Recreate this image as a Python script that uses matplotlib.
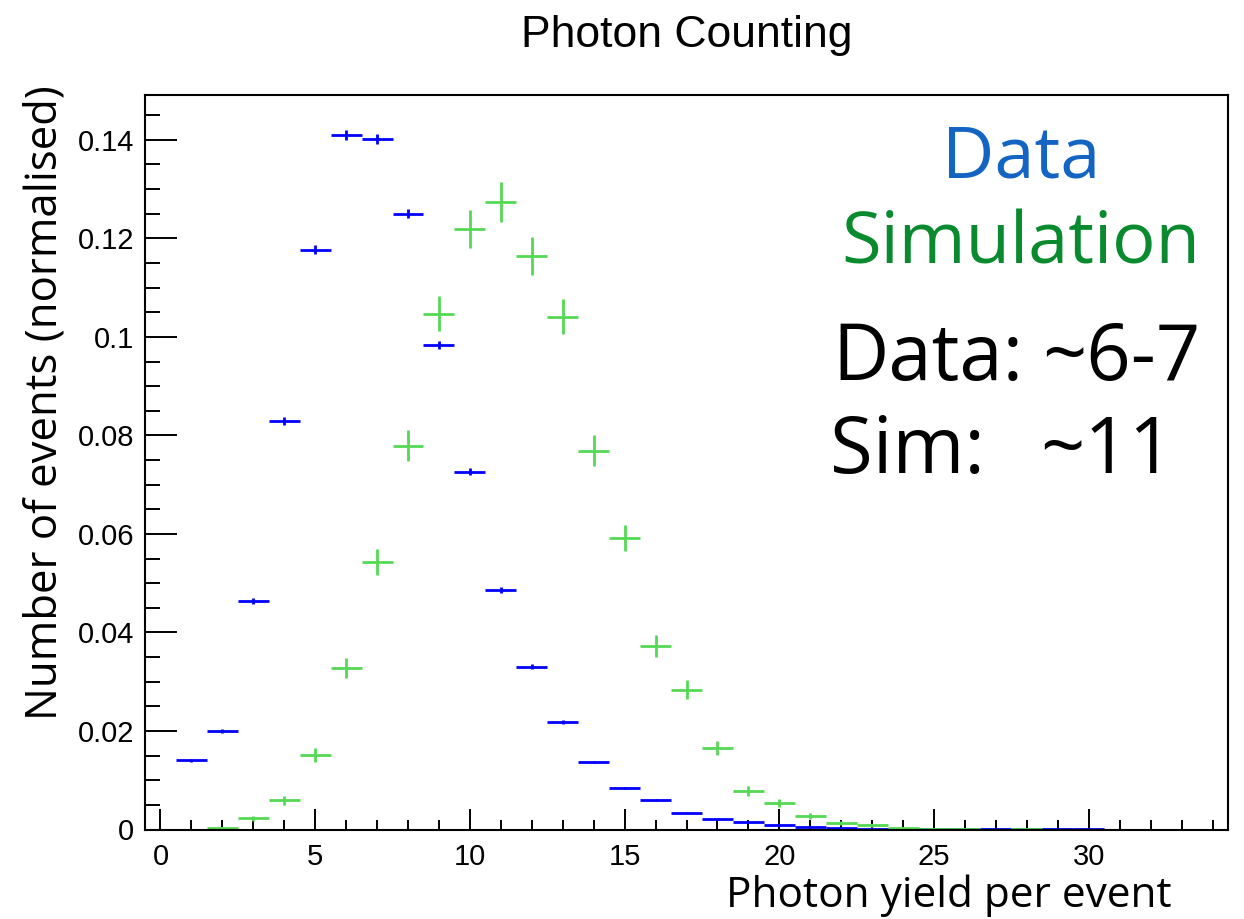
import numpy as np
import matplotlib
matplotlib.use("Agg")
import matplotlib.pyplot as plt
from matplotlib.ticker import MultipleLocator

# ---- data ----
bins = list(range(0, 31))
data_vals = [np.nan, 0.0141, 0.0200, 0.0464, 0.0829, 0.1177, 0.1410, 0.1401, 0.1250, 0.0984,
             0.0726, 0.0486, 0.0330, 0.0218, 0.0137, 0.0084, 0.0060, 0.0034, 0.0021, 0.0015,
             0.0009, 0.0005, 0.0003, 0.0002, 0.0001, 0.00008, 0.00005, 0.00004, 0.00003, 0.00002, 0.00002]
data_errs = [0, 0.0003, 0.0004, 0.0006, 0.0008, 0.0009, 0.0010, 0.0010, 0.0009, 0.0008,
             0.0007, 0.0006, 0.0005, 0.0004, 0.0003, 0.0002, 0.0002, 0.00015, 0.0001, 0.0001,
             0.0001, 0.0001, 0, 0, 0, 0, 0, 0, 0, 0, 0]
sim_vals = [0.0, np.nan, 0.0004, 0.0023, 0.0059, 0.0152, 0.0328, 0.0543, 0.0779, 0.1047,
            0.1219, 0.1274, 0.1164, 0.1041, 0.0769, 0.0592, 0.0373, 0.0284, 0.0166, 0.0078,
            0.0054, 0.0027, 0.0013, 0.0009, 0.0003, 0.0001, 0.0001, np.nan, 0.0001, np.nan, np.nan]
sim_errs = [0, 0, 0.0002, 0.0005, 0.0009, 0.0014, 0.0020, 0.0026, 0.0031, 0.0036,
            0.0039, 0.0040, 0.0038, 0.0036, 0.0031, 0.0027, 0.0022, 0.0019, 0.0014, 0.0010,
            0.0008, 0.0006, 0.0004, 0.0003, 0.0002, 0.0001, 0.0001, 0, 0.0001, 0, 0]

yticks = [0, 0.02, 0.04, 0.06, 0.08, 0.1, 0.12, 0.14]
ytick_labels = ["0", "0.02", "0.04", "0.06", "0.08", "0.1", "0.12", "0.14"]

title = "Photon Counting"
xlabel = "Photon yield per event"
ylabel = "Number of events (normalised)"

BLUE = "#0000ff"
GREEN = "#55d855"
TXT_FONT = ["Open Sans", "DejaVu Sans"]
NUM_FONT = ["Liberation Sans", "DejaVu Sans"]

fig = plt.figure(figsize=(12.44, 9.19), dpi=100)
ax = fig.add_axes([145/1244, 1-829.5/919, (1228-145)/1244, (829.5-95)/919])

x = np.array(bins, dtype=float)
ax.errorbar(x, data_vals, xerr=0.5, yerr=data_errs, fmt="none", ecolor=BLUE, elinewidth=2.0, capsize=0)
ax.errorbar(x, sim_vals, xerr=0.5, yerr=sim_errs, fmt="none", ecolor=GREEN, elinewidth=2.0, capsize=0)

ax.set_xlim(-0.5, 34.5)
ax.set_ylim(0, 0.1491)

ax.xaxis.set_major_locator(MultipleLocator(5))
ax.xaxis.set_minor_locator(MultipleLocator(1))
ax.set_yticks(yticks)
ax.set_yticklabels(ytick_labels)
ax.yaxis.set_minor_locator(MultipleLocator(0.005))

ax.tick_params(axis="x", which="major", direction="in", length=15, width=1.4, pad=10, top=False)
ax.tick_params(axis="x", which="minor", direction="in", length=7, width=1.4, top=False)
ax.tick_params(axis="y", which="major", direction="in", length=23, width=1.4, pad=8, right=False)
ax.tick_params(axis="y", which="minor", direction="in", length=11, width=1.4, right=False)
for lab in ax.get_xticklabels() + ax.get_yticklabels():
    lab.set_fontfamily(NUM_FONT)
    lab.set_fontsize(21)

for sp in ax.spines.values():
    sp.set_linewidth(1.5)

fig.text(687/1244, 1 - 35/919, title, ha="center", va="center", fontsize=32, family=NUM_FONT)
fig.text(1172/1244, 1 - 907/919, xlabel, ha="right", va="baseline", fontsize=30.5, family=TXT_FONT)
fig.text(45/1244, 1 - 403/919, ylabel, ha="center", va="center", rotation=90, fontsize=31.5, family=TXT_FONT)

fig.text(1100/1244, 1 - 178/919, "Data", ha="right", va="baseline",
         fontsize=52, color="#1464c4", family=TXT_FONT)
fig.text(1200/1244, 1 - 263/919, "Simulation", ha="right", va="baseline",
         fontsize=52, color="#0a8a2e", family=TXT_FONT)
fig.text(832/1244, 1 - 380/919, "Data:", ha="left", va="baseline",
         fontsize=56, color="black", family=TXT_FONT)
fig.text(1200/1244, 1 - 380/919, "~6-7", ha="right", va="baseline",
         fontsize=56, color="black", family=TXT_FONT)
fig.text(830/1244, 1 - 473/919, "Sim:", ha="left", va="baseline",
         fontsize=56, color="black", family=TXT_FONT)
fig.text(1174/1244, 1 - 473/919, "~11", ha="right", va="baseline",
         fontsize=56, color="black", family=TXT_FONT)

fig.savefig("out.png", dpi=100)
